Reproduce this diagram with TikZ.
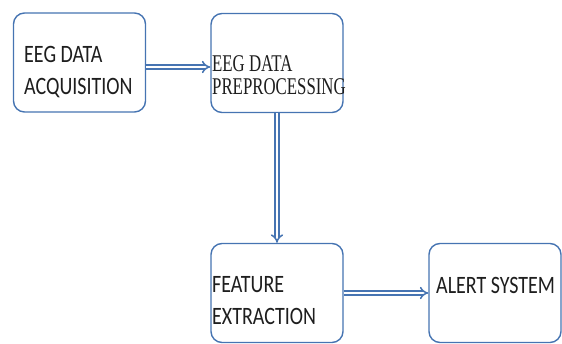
\documentclass[tikz,border=0pt]{standalone}
\usepackage{fontspec}
\setmainfont{Carlito}[FakeStretch=0.8]
\newfontfamily\timesfont{Liberation Serif}[FakeStretch=0.7]
\usetikzlibrary{arrows.meta,positioning}
\definecolor{boxblue}{RGB}{70,116,178}
\definecolor{inkgray}{RGB}{30,30,30}
\tikzset{
  stage/.style={draw=boxblue,line width=1.4pt,rounded corners=11pt,fill=white,inner sep=0pt,minimum width=132pt,minimum height=99pt},
  lbl/.style={inner sep=0pt,anchor=base west,align=left,text=inkgray,font=\fontsize{25}{32}\selectfont},
  serlbl/.style={lbl,font=\timesfont\fontsize{24}{23.5}\selectfont},
  flow/.style={draw=boxblue,double=white,double distance=2.6pt,line width=1.5pt,-{Implies[scale=1.3]}}
}

\begin{document}
\begin{tikzpicture}[x=1pt,y=-1pt]
\useasboundingbox (0,0) rectangle (562,344);
% stages
\node[stage] (acq) at (79.5,62.5) {};
\node[stage] (pre) at (277,63) {};
\node[stage] (feat) at (277,293) {};
\node[stage] (alert) at (495,293) {};
% labels
\node[lbl] (acqT) at (24,95) {EEG DATA\\ACQUISITION};
\node[serlbl] (preT) at (212,95) {EEG DATA\\PREPROCESSING};
\node[lbl] (featT) at (212,325) {FEATURE\\EXTRACTION};
\node[lbl] (alertT) at (436,294) {ALERT SYSTEM};
% flow
\draw[flow] ([yshift=-4.5pt]acq.east) -- ([yshift=-4.5pt]acq.east -| pre.west);
\draw[flow] (pre.south) -- (pre.south |- feat.north);
\draw[flow] (feat.east) -- (alert.west);
\end{tikzpicture}
\end{document}
